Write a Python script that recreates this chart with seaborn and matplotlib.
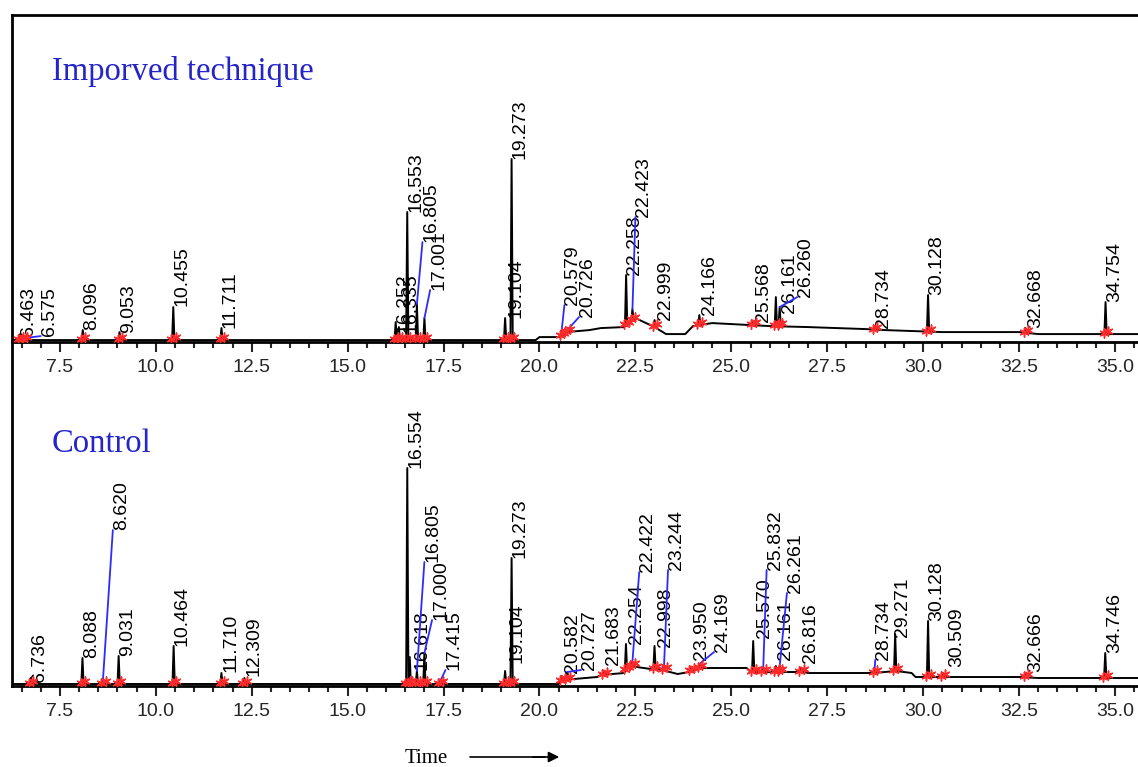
import numpy as np
import pandas as pd
import matplotlib.pyplot as plt
import seaborn as sns
from matplotlib.ticker import MultipleLocator, FormatStrFormatter

# ---- Improved technique (top trace), heights in detector units above axis
top_rt = [6.463, 6.575, 8.096, 9.053, 10.455, 11.711, 16.252, 16.335, 16.553, 16.805,
          17.001, 19.104, 19.273, 20.579, 20.726, 22.258, 22.423, 22.999, 24.166, 25.568,
          26.161, 26.260, 28.734, 30.128, 32.668, 34.754]
top_apex = [8, 4, 12, 10, 35, 14, 20, 15, 130, 38,
            24, 24, 183, 12, 12, 67, 33, 22, 27, 20,
            45, 35, 14, 47, 14, 40]
top_lab_x = [6.47, 7.0, 8.10, 9.06, 10.46, 11.72, 16.24, 16.42, 16.56, 16.95,
             17.15, 19.16, 19.28, 20.65, 21.03, 22.26, 22.5, 23.05, 24.2, 25.62,
             26.3, 26.72, 28.75, 30.13, 32.7, 34.76]
top_lab_y = [6, 6, 12, 9, 36, 14, 9, 9, 130, 100,
             52, 24, 183, 37, 25, 67, 125, 22, 27, 20,
             29, 45, 14, 47, 14, 40]
top_base_t = [6.25, 19.9, 20.0, 20.55, 20.65, 21.0, 21.3, 21.6, 22.2, 22.5, 23.0, 23.3,
              23.8, 24.0, 24.5, 25.5, 26.0, 27.0, 28.5, 29.0, 30.5, 32.5, 33.0, 35.6]
top_base_y = [2, 2, 5, 5, 10, 11, 12, 14, 15, 24, 15, 8,
              8, 16, 19, 17, 16, 15, 13, 12, 10, 10, 8, 8]

# ---- Control (bottom trace)
ctl_rt = [6.736, 8.088, 8.620, 9.031, 10.464, 11.710, 12.309, 16.554, 16.618, 16.805,
          17.000, 17.415, 19.104, 19.273, 20.582, 20.727, 21.683, 22.254, 22.422, 22.998,
          23.244, 23.950, 24.169, 25.570, 25.832, 26.161, 26.261, 26.816, 28.734, 29.271,
          30.128, 30.509, 32.666, 34.746]
ctl_apex = [8, 28, 5, 30, 40, 13, 8, 218, 29, 15,
            33, 5, 15, 128, 10, 14, 14, 42, 24, 40,
            18, 18, 22, 45, 18, 20, 20, 18, 16, 52,
            65, 12, 12, 33]
ctl_lab_x = [6.75, 8.10, 8.88, 9.04, 10.47, 11.73, 12.33, 16.56, 16.72, 17.0,
             17.2, 17.55, 19.2, 19.28, 20.65, 21.08, 21.7, 22.3, 22.6, 23.05,
             23.35, 24.0, 24.55, 25.65, 25.92, 26.2, 26.45, 26.85, 28.75, 29.25,
             30.13, 30.65, 32.7, 34.76]
ctl_lab_y = [4, 28, 156, 30, 40, 14, 10, 218, 16, 124,
             66, 16, 23, 128, 13, 16, 21, 42, 114, 39,
             116, 26, 34, 48, 116, 26, 93, 23, 26, 49,
             65, 19, 14, 33]
ctl_base_t = [6.25, 20.5, 20.6, 21.5, 21.6, 22.2, 22.35, 22.9, 23.1, 23.6, 23.9, 24.2,
              25.4, 25.5, 26.9, 27.0, 28.7, 29.3, 29.7, 29.8, 32.5, 33.0, 35.6]
ctl_base_y = [2, 2, 6, 9, 11, 13, 20, 17, 17, 12, 14, 18,
              18, 14, 14, 13, 13, 15, 13, 9, 9, 8, 8]

sns.set_style('white')
plt.rcParams['font.family'] = ['Liberation Sans', 'DejaVu Sans']

fig = plt.figure(figsize=(11.38, 7.67), dpi=100)
ax2 = fig.add_axes([0.0105, 0.1056, 0.9895, 0.4484])
ax1 = fig.add_axes([0.0105, 0.554, 0.9895, 0.4264])
ax2.patch.set_visible(False)

panels = [
    (ax1, top_rt, top_apex, top_lab_x, top_lab_y, top_base_t, top_base_y, 327),
    (ax2, ctl_rt, ctl_apex, ctl_lab_x, ctl_lab_y, ctl_base_t, ctl_base_y, 344),
]

hw = 0.03
for ax, rt, apex, lx, ly, bt, by, ytop in panels:
    base = np.interp(rt, bt, by)
    rows = []
    for i, (t, a, b) in enumerate(zip(rt, apex, base)):
        rows += [(i, t - hw, b), (i, t, a), (i, t + hw, b)]
    pk = pd.DataFrame(rows, columns=['pk', 't', 'y'])
    sns.lineplot(x=bt, y=by, ax=ax, color='black', lw=1.4, sort=False, estimator=None)
    sns.lineplot(data=pk, x='t', y='y', units='pk', estimator=None, ax=ax,
                 color='black', lw=1.4, sort=False)
    # red integration marks at peak start/end
    marks = pd.DataFrame({'t': np.concatenate([np.array(rt) - 0.05, np.array(rt) + 0.07]),
                          'y': np.concatenate([base + 1, base + 3])})
    sns.scatterplot(data=marks, x='t', y='y', ax=ax, marker=(6, 2, 0), s=40,
                    color='#ff2a2a', linewidth=1.1, zorder=4)
    for t, a, x, y in zip(rt, apex, lx, ly):
        if y - a > 8 or x - t > 0.15:
            ax.plot([t, x], [a, y], color='#2b2bff', lw=1.3, zorder=3)
        ax.text(x, y, f'{t:.3f}', rotation=90, ha='left', va='bottom',
                fontsize=14, color='black')
    ax.set_xlim(6.25, 35.6)
    ax.set_ylim(0, ytop)
    ax.set_yticks([])
    ax.set_xlabel('')
    ax.set_ylabel('')
    ax.xaxis.set_major_locator(MultipleLocator(2.5))
    ax.xaxis.set_minor_locator(MultipleLocator(0.5))
    ax.xaxis.set_major_formatter(FormatStrFormatter('%.1f'))
    ax.tick_params(axis='x', which='major', direction='out', length=7, width=1.5,
                   labelsize=14, pad=5, bottom=True)
    ax.tick_params(axis='x', which='minor', direction='out', length=4, width=1.5, bottom=True)
    for s in ax.spines.values():
        s.set_linewidth(2)
        s.set_color('black')
    ax.spines['right'].set_visible(False)

ax2.spines['top'].set_visible(False)

fig.text(52 / 1138, 1 - 80 / 767, 'Imporved technique', family='Liberation Serif',
         fontsize=23.5, color='#2424c8', va='baseline')
fig.text(52 / 1138, 1 - 452 / 767, 'Control', family='Liberation Serif',
         fontsize=23.5, color='#2424c8', va='baseline')
fig.text(405 / 1138, 1 - 763 / 767, 'Time', family='Liberation Serif',
         fontsize=15, color='black', va='baseline')
fig.add_artist(plt.Line2D([470 / 1138, 545 / 1138], [1 - 757 / 767, 1 - 757 / 767],
                          color='black', lw=1.2))
ax2.annotate('', xy=(562 / 1138, 1 - 757 / 767), xytext=(530 / 1138, 1 - 757 / 767),
             xycoords='figure fraction', textcoords='figure fraction',
             arrowprops=dict(arrowstyle='-|>', color='black', lw=1.2, mutation_scale=16))

fig.savefig('out.png', dpi=100)
